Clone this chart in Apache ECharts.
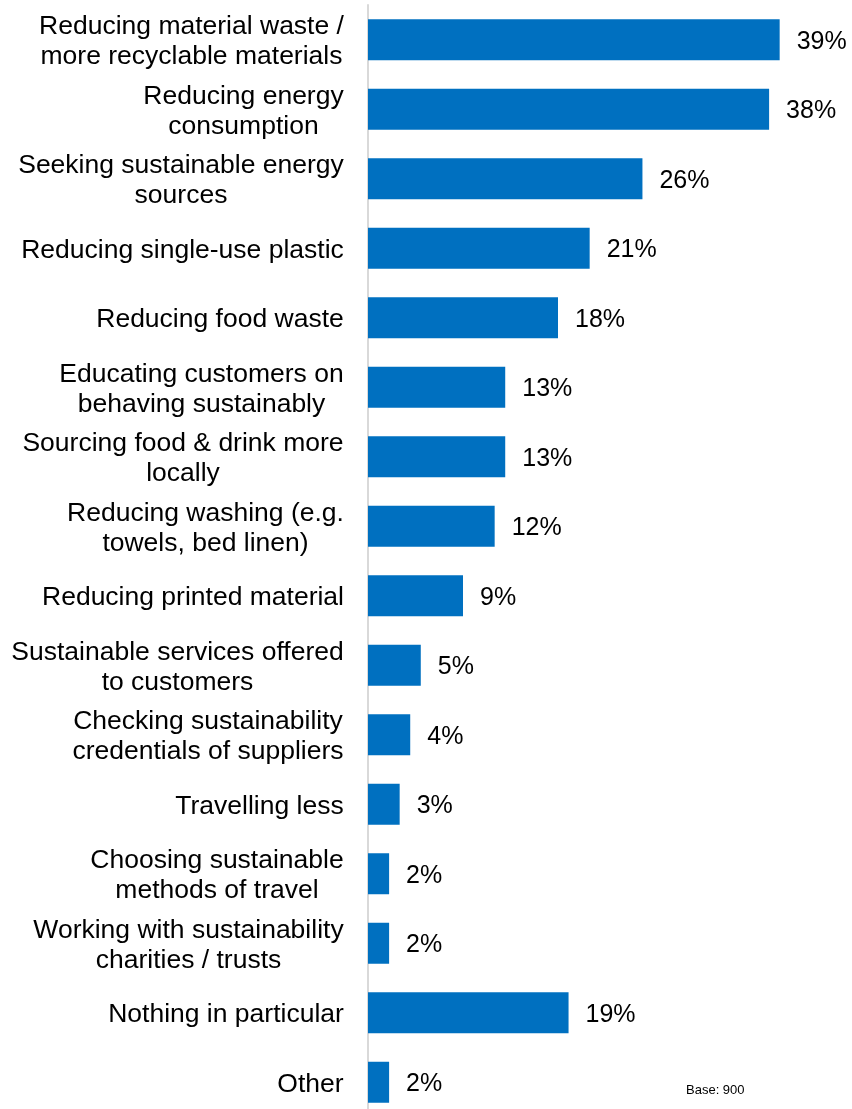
<!DOCTYPE html>
<html><head><meta charset="utf-8">
<script src="https://cdn.jsdelivr.net/npm/echarts@6/dist/echarts.min.js"></script>
<style>html,body{margin:0;padding:0;background:#fff;overflow:hidden}#c{width:852px;height:1117px}</style>
</head><body><div id="c"></div>
<script>
const categories = [
  "Reducing material waste /\nmore recyclable materials",
  "Reducing energy\nconsumption",
  "Seeking sustainable energy\nsources",
  "Reducing single-use plastic",
  "Reducing food waste",
  "Educating customers on\nbehaving sustainably",
  "Sourcing food & drink more\nlocally",
  "Reducing washing (e.g.\ntowels, bed linen)",
  "Reducing printed material",
  "Sustainable services offered\nto customers",
  "Checking sustainability\ncredentials of suppliers",
  "Travelling less",
  "Choosing sustainable\nmethods of travel",
  "Working with sustainability\ncharities / trusts",
  "Nothing in particular",
  "Other"
];
const values = [39, 38, 26, 21, 18, 13, 13, 12, 9, 5, 4, 3, 2, 2, 19, 2];
const baseNote = "Base: 900";

const FONT = 'Liberation Sans, Arial, sans-serif';
const FS = 26.5;
const ctx = document.createElement('canvas').getContext('2d');
ctx.font = FS + 'px "Liberation Sans", Arial, sans-serif';
const rich = {};
categories.forEach((c, i) => {
  const w = Math.max(...c.split('\n').map(s => ctx.measureText(s).width));
  rich['l' + i] = {width: Math.ceil(w), align: 'center', fontSize: FS, lineHeight: 30, fontFamily: FONT, color: '#000'};
});

const chart = echarts.init(document.getElementById('c'), null, {renderer: 'canvas'});
chart.setOption({
  animation: false,
  grid: {left: 368, right: 9, top: 5, bottom: 0, containLabel: false},
  xAxis: {type: 'value', min: 0, max: 45, show: false},
  yAxis: {
    type: 'category', data: categories, inverse: true,
    axisLine: {show: true, lineStyle: {color: '#d9d9d9', width: 2}},
    axisTick: {show: false},
    axisLabel: {
      color: '#000', fontFamily: FONT, fontSize: FS, lineHeight: 30, margin: 24, align: 'right',
      padding: [4, 0, 0, 0],
      formatter: (v, i) => v.split('\n').map(s => '{l' + i + '|' + s + '}').join('\n'),
      rich: rich
    }
  },
  series: [{
    type: 'bar', data: values, barWidth: 41,
    itemStyle: {color: '#0070C0'},
    label: {show: true, position: 'right', distance: 17, offset: [0, 2], formatter: '{c}%', color: '#000', fontFamily: FONT, fontSize: 25}
  }],
  graphic: [{type: 'text', left: 686, top: 1084, style: {text: baseNote, fill: '#000', font: '13px "Liberation Sans", Arial, sans-serif'}}]
});
</script></body></html>
